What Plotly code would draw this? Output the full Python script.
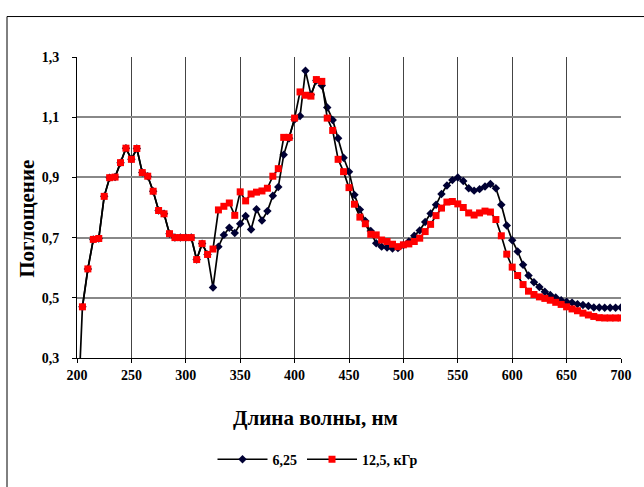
import plotly.graph_objects as go

# Wavelengths, nm
wl_625 = [200, 205, 210, 215, 220, 225, 230, 235, 240, 245, 250, 255, 260, 265, 270, 275, 280, 285, 290, 295,
          300, 305, 310, 315, 320, 325, 330, 335, 340, 345, 350, 355, 360, 365, 370, 375, 380, 385, 390, 395,
          400, 405, 410, 415, 420, 425, 430, 435, 440, 445, 450, 455, 460, 465, 470, 475, 480, 485, 490, 495,
          500, 505, 510, 515, 520, 525, 530, 535, 540, 545, 550, 555, 560, 565, 570, 575, 580, 585, 590, 595,
          600, 605, 610, 615, 620, 625, 630, 635, 640, 645, 650, 655, 660, 665, 670, 675, 680, 685, 690, 695, 700]
abs_625 = [0.05, 0.470, 0.596, 0.694, 0.697, 0.837, 0.899, 0.901, 0.949, 0.997, 0.960, 0.996, 0.916, 0.904, 0.854,
           0.790, 0.779, 0.713, 0.700, 0.700, 0.700, 0.700, 0.627, 0.680, 0.644, 0.534, 0.670, 0.709, 0.733, 0.715,
           0.746, 0.772, 0.727, 0.794, 0.757, 0.788, 0.839, 0.868, 0.975, 1.030, 1.092, 1.104, 1.254, 1.175, 1.222,
           1.205, 1.132, 1.091, 1.030, 0.965, 0.919, 0.842, 0.793, 0.755, 0.722, 0.681, 0.670, 0.667, 0.664, 0.665,
           0.675, 0.687, 0.706, 0.724, 0.752, 0.780, 0.809, 0.845, 0.873, 0.891, 0.900, 0.888, 0.864, 0.856, 0.861,
           0.870, 0.878, 0.864, 0.809, 0.740, 0.691, 0.654, 0.610, 0.574, 0.552, 0.536, 0.520, 0.509, 0.501, 0.492,
           0.487, 0.484, 0.479, 0.476, 0.473, 0.468, 0.468, 0.467, 0.467, 0.467, 0.468]

wl_125 = [205, 210, 215, 220, 225, 230, 235, 240, 245, 250, 255, 260, 265, 270, 275, 280, 285, 290, 295,
          300, 305, 310, 315, 320, 325, 330, 335, 340, 345, 350, 355, 360, 365, 370, 375, 380, 385, 390, 395,
          400, 405, 410, 415, 420, 425, 430, 435, 440, 445, 450, 455, 460, 465, 470, 475, 480, 485, 490, 495,
          500, 505, 510, 515, 520, 525, 530, 535, 540, 545, 550, 555, 560, 565, 570, 575, 580, 585, 590, 595,
          600, 605, 610, 615, 620, 625, 630, 635, 640, 645, 650, 655, 660, 665, 670, 675, 680, 685, 690, 695, 700]
abs_125 = [0.470, 0.596, 0.694, 0.697, 0.837, 0.899, 0.901, 0.949, 0.997, 0.960, 0.996, 0.916, 0.904, 0.854,
           0.790, 0.779, 0.713, 0.700, 0.700, 0.700, 0.700, 0.627, 0.680, 0.644, 0.662, 0.792, 0.804, 0.815, 0.774,
           0.852, 0.822, 0.845, 0.851, 0.855, 0.864, 0.904, 0.929, 1.033, 1.033, 1.097, 1.184, 1.173, 1.170, 1.225,
           1.219, 1.097, 1.056, 0.960, 0.919, 0.866, 0.811, 0.768, 0.746, 0.711, 0.709, 0.692, 0.687, 0.678, 0.670,
           0.676, 0.679, 0.687, 0.698, 0.720, 0.744, 0.773, 0.798, 0.818, 0.820, 0.812, 0.800, 0.782, 0.775, 0.782,
           0.788, 0.785, 0.760, 0.706, 0.645, 0.602, 0.574, 0.544, 0.522, 0.511, 0.503, 0.498, 0.492, 0.485, 0.478,
           0.470, 0.463, 0.457, 0.449, 0.443, 0.438, 0.434, 0.433, 0.433, 0.433, 0.433]

series_names = ["6,25", "12,5, кГр"]
x_ticks = [200, 250, 300, 350, 400, 450, 500, 550, 600, 650, 700]
y_ticks = [0.3, 0.5, 0.7, 0.9, 1.1, 1.3]
x_title = "Длина волны, нм"
y_title = "Поглощение"

FONT = "Liberation Serif"

fig = go.Figure()
fig.add_trace(go.Scatter(
    x=wl_625, y=abs_625, name=series_names[0], mode="lines+markers",
    line=dict(color="black", width=1.7),
    marker=dict(symbol="diamond", size=6.5, color="#000033"),
))
fig.add_trace(go.Scatter(
    x=wl_125, y=abs_125, name=series_names[1], mode="lines+markers",
    line=dict(color="black", width=1.7),
    marker=dict(symbol="square", size=7, color="#ff0000"),
))

L, R, T, B = 77, 621, 57, 362
W, H = 644, 487
pw, ph = R - L, B - T

def px(xp):
    return (xp - L) / pw

def py(yp):
    return (B - yp) / ph

fig.update_layout(
    width=W, height=H,
    margin=dict(l=L, r=W - R, t=T, b=H - B, pad=0),
    paper_bgcolor="white", plot_bgcolor="white",
    separators=", ",
    showlegend=True,
    legend=dict(
        orientation="h", x=px(318), xanchor="center", y=py(465), yanchor="middle",
        font=dict(family=FONT, size=14, color="black", weight="bold"),
        bgcolor="rgba(0,0,0,0)", itemwidth=50,
    ),
    xaxis=dict(
        range=[200, 700], tickvals=x_ticks, ticks="outside", ticklen=4, tickcolor="black",
        showline=True, linecolor="black", linewidth=1,
        showgrid=True, gridcolor="#444444", gridwidth=1,
        tickfont=dict(family=FONT, size=14, color="black", weight="bold"),
        zeroline=False,
    ),
    yaxis=dict(
        range=[0.3, 1.3], tickvals=y_ticks, tickformat=".1f", ticks="outside", ticklen=4,
        tickcolor="black", ticklabelstandoff=10,
        showline=True, linecolor="black", linewidth=1,
        showgrid=True, gridcolor="#888888", gridwidth=1.5,
        tickfont=dict(family=FONT, size=14, color="black", weight="bold"),
        zeroline=False,
    ),
    annotations=[
        dict(text=x_title, xref="paper", yref="paper", x=px(315), y=py(423),
             xanchor="center", yanchor="middle", showarrow=False,
             font=dict(family=FONT, size=21, color="black", weight="bold")),
        dict(text=y_title, xref="paper", yref="paper", x=px(27), y=py(221),
             xanchor="center", yanchor="middle", showarrow=False, textangle=-90,
             font=dict(family=FONT, size=21, color="black", weight="bold")),
    ],
    shapes=[
        dict(type="rect", xref="paper", yref="paper",
             x0=px(7), x1=px(660), y0=py(500), y1=py(16),
             line=dict(color="black", width=1), fillcolor="rgba(0,0,0,0)", layer="below"),
    ],
)

fig.write_html("out.html")
